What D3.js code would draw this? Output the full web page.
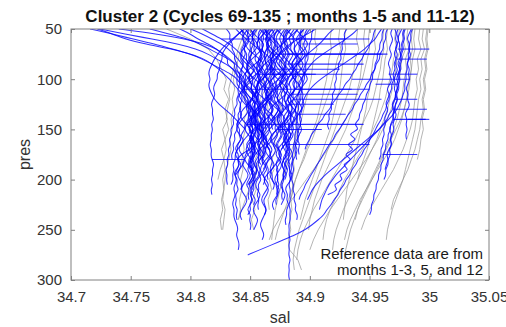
<!DOCTYPE html>
<html>
<head>
<meta charset="utf-8">
<script src="https://cdn.jsdelivr.net/npm/d3@7"></script>
<style>
  html, body { margin: 0; padding: 0; background: #fff; }
  svg { display: block; }
  text { font-family: "Liberation Sans", Arial, Helvetica, sans-serif; }
</style>
</head>
<body>
<svg id="chart" width="506" height="327"></svg>
<script>
// Pressure levels (dbar) shared by every profile of a group
const presCycle = d3.range(50, 301, 5);   // cluster profiles, 5 dbar spacing
const presRef = d3.range(50, 301, 10);    // reference profiles, 10 dbar spacing

const xTicks = [34.7, 34.75, 34.8, 34.85, 34.9, 34.95, 35, 35.05];
const yTicks = [50, 100, 150, 200, 250, 300];

const titleText = "Cluster 2 (Cycles 69-135 ; months 1-5 and 11-12)";
const noteLines = ["Reference data are from", "months 1-3, 5, and 12"];

// Reference profiles: salinity at presRef levels
const refSal = [
  [34.998,34.997,34.998,34.996,34.997,34.995,34.996,34.994,34.995,34.993,34.992,34.990,34.988,34.985,34.982,34.978,34.974,34.970,34.968],
  [34.992,34.991,34.993,34.990,34.991,34.989,34.990,34.988,34.987,34.986,34.984,34.981,34.978,34.974,34.970,34.965,34.960,34.955,34.950,34.946,34.943],
  [34.986,34.985,34.986,34.984,34.985,34.983,34.982,34.981,34.979,34.977,34.974,34.971,34.967,34.962,34.957,34.952,34.947,34.942,34.938,34.934,34.931,34.929],
  [34.995,34.994,34.996,34.993,34.994,34.992,34.993,34.991,34.990,34.989,34.988,34.986,34.984,34.982,34.980,34.978,34.975,34.972,34.969,34.967,34.965,34.964],
  [34.979,34.978,34.980,34.977,34.976,34.975,34.973,34.971,34.968,34.965,34.961,34.957,34.952,34.947,34.941,34.935,34.929,34.923,34.917,34.912,34.907,34.903,34.900],
  [34.972,34.971,34.973,34.970,34.969,34.967,34.965,34.963,34.960,34.957,34.953,34.949,34.944,34.939,34.934,34.929,34.925,34.921,34.917,34.914,34.912,34.911],
  [34.965,34.964,34.965,34.963,34.962,34.961,34.959,34.958,34.956,34.954,34.952,34.950,34.948,34.945,34.942,34.940],
  [34.955,34.954,34.955,34.953,34.952,34.951,34.950,34.948,34.947,34.945,34.943,34.941,34.939,34.937,34.935,34.933,34.931,34.930,34.929,34.928],
  [34.946,34.945,34.946,34.944,34.943,34.942,34.940,34.938,34.936,34.933,34.930,34.926,34.922,34.918,34.914,34.910,34.907,34.904,34.902,34.900,34.899],
  [34.930,34.929,34.930,34.928,34.927,34.926,34.925,34.923,34.921,34.919,34.917,34.914,34.911,34.908,34.905,34.902,34.899,34.896,34.894,34.892],
  [34.918,34.917,34.918,34.916,34.915,34.914,34.912,34.910,34.908,34.906,34.903,34.900,34.897,34.894,34.891,34.888,34.886,34.884],
  [34.905,34.904,34.906,34.903,34.902,34.901,34.899,34.897,34.895,34.893,34.891,34.888,34.885,34.882,34.880,34.877,34.875,34.873,34.871,34.870,34.869,34.868],
  [34.962,34.961,34.962,34.960,34.959,34.957,34.955,34.953,34.950,34.946,34.942,34.938,34.933,34.928,34.923,34.918,34.913,34.908,34.903,34.899,34.895,34.892,34.890,34.889],
  [34.940,34.939,34.941,34.938,34.937,34.935,34.933,34.930,34.927,34.924,34.921,34.918,34.915,34.912,34.909,34.906,34.903,34.900,34.897,34.894,34.891,34.889,34.887,34.886,34.887],
  [34.988,34.987,34.988,34.986,34.985,34.984,34.983,34.981,34.979,34.976,34.972,34.968,34.964,34.960,34.956,34.952,34.948,34.944,34.940,34.937,34.934,34.932,34.930,34.929],
  [34.880,34.878,34.881,34.877,34.879,34.876,34.878,34.874,34.876,34.872,34.874,34.870,34.872,34.868,34.870,34.866,34.868,34.865,34.866],
  [34.866,34.863,34.867,34.862,34.865,34.860,34.863,34.858,34.861,34.857,34.859,34.855,34.858,34.854,34.856,34.853,34.855,34.852,34.854,34.851,34.853],
  [34.780,34.800,34.815,34.822,34.826,34.830,34.828,34.832,34.829,34.831,34.827,34.829,34.826,34.828,34.825,34.823],
  [34.850,34.846,34.842,34.840,34.838,34.836,34.837,34.835,34.836,34.834,34.835,34.833,34.834,34.832,34.830,34.829,34.828,34.827,34.829,34.828,34.827],
  [34.845,34.843,34.840,34.838,34.836,34.834,34.832,34.833,34.831,34.830,34.832,34.829,34.830,34.828,34.829,34.827,34.828,34.826,34.827,34.825,34.826],
  [34.856,34.853,34.851,34.850,34.848,34.849,34.847,34.846,34.848,34.845,34.846,34.844,34.845,34.843,34.844,34.842,34.843,34.841,34.842,34.840],
  [34.895,34.893,34.894,34.891,34.892,34.890,34.891,34.889,34.890,34.888,34.889,34.887,34.888,34.886,34.887,34.885,34.886,34.884,34.885,34.883,34.884,34.882,34.883,34.890,34.893],
  [34.925,34.924,34.926,34.923,34.921,34.919,34.917,34.914,34.911,34.908,34.905,34.902,34.898,34.895,34.891,34.888,34.885,34.882,34.879,34.876,34.873,34.871],
  [34.999,34.998,34.999,34.997,34.998,34.996,34.997,34.995,34.996,34.994,34.995,34.993,34.992,34.990],
  [34.982,34.981,34.983,34.980,34.981,34.979,34.978,34.977,34.975,34.973,34.970,34.967,34.963,34.959,34.955,34.951,34.947,34.943,34.940,34.938],
  [34.975,34.974,34.976,34.973,34.972,34.971,34.969,34.967,34.965,34.962,34.959,34.956,34.952,34.948,34.944,34.940,34.936,34.932,34.928,34.925,34.922,34.920,34.919],
  [34.950,34.949,34.950,34.948,34.946,34.944,34.941,34.938,34.934,34.930,34.925,34.920,34.915,34.909,34.903,34.897,34.891,34.885,34.879,34.874,34.869,34.866],
  [34.872,34.870,34.871,34.868,34.869,34.866,34.867,34.864,34.865,34.862,34.863,34.860,34.861,34.858,34.855,34.852,34.849,34.846,34.843,34.840]
];

// Cluster 2 profiles: salinity at presCycle levels
const cycleSal = [
  [34.716,34.735,34.752,34.770,34.785,34.800,34.812,34.818,34.824,34.828,34.833,34.836,34.840,34.843,34.846,34.849,34.851,34.849,34.852,34.850,34.853,34.851,34.849,34.852,34.850,34.853,34.851,34.849,34.852,34.851],
  [34.724,34.745,34.768,34.790,34.805,34.815,34.822,34.830,34.836,34.838,34.842,34.846,34.844,34.848,34.851,34.849,34.853,34.851,34.855,34.853,34.856,34.854,34.852,34.855,34.853,34.856],
  [34.766,34.782,34.798,34.808,34.816,34.824,34.832,34.838,34.836,34.842,34.846,34.845,34.849,34.853,34.851,34.855,34.853,34.857,34.855,34.859,34.857,34.855,34.858,34.856,34.860,34.858,34.856,34.859],
  [34.722,34.735,34.745,34.762,34.785,34.800,34.810,34.818,34.826,34.834,34.840,34.838,34.843,34.846,34.849,34.847,34.850,34.848,34.852,34.850,34.853,34.851,34.849,34.852,34.850,34.853,34.851,34.849,34.852],
  [34.791,34.800,34.806,34.815,34.822,34.827,34.832,34.830,34.836,34.840,34.838,34.843,34.846,34.845,34.849,34.848,34.852,34.855,34.854,34.858,34.857,34.861,34.864,34.863,34.867,34.866,34.869,34.868,34.866,34.869,34.868,34.871],
  [34.856,34.853,34.851,34.854,34.850,34.852,34.849,34.853,34.855,34.851,34.848,34.852,34.850,34.854,34.851,34.847,34.850,34.853,34.849,34.851,34.848,34.852,34.850,34.846,34.849,34.852,34.848,34.850,34.847,34.851,34.849,34.846,34.850,34.848,34.849],
  [34.864,34.861,34.858,34.862,34.859,34.863,34.860,34.857,34.861,34.864,34.860,34.858,34.861,34.859,34.862,34.858,34.856,34.860,34.863,34.859,34.857,34.861,34.858,34.855,34.859,34.862,34.858,34.856,34.859,34.857,34.860,34.856,34.858,34.855,34.858,34.856,34.857],
  [34.871,34.868,34.866,34.869,34.867,34.871,34.868,34.865,34.869,34.872,34.868,34.866,34.869,34.867,34.864,34.868,34.870,34.866,34.864,34.867,34.865,34.869,34.866,34.863,34.866,34.868,34.865,34.863,34.866,34.864,34.865],
  [34.879,34.876,34.874,34.877,34.875,34.879,34.876,34.873,34.877,34.880,34.876,34.874,34.877,34.874,34.872,34.876,34.878,34.874,34.872,34.875,34.873,34.877,34.874,34.871,34.874,34.876,34.873,34.871,34.874,34.872,34.874,34.871,34.873,34.872],
  [34.887,34.884,34.882,34.885,34.883,34.887,34.884,34.881,34.885,34.888,34.884,34.882,34.885,34.883,34.880,34.884,34.886,34.882,34.880,34.883,34.881,34.885,34.882,34.879,34.882,34.884,34.881,34.879,34.881],
  [34.895,34.892,34.890,34.893,34.891,34.895,34.892,34.889,34.893,34.896,34.892,34.890,34.893,34.890,34.888,34.892,34.894,34.890,34.888,34.891,34.889,34.892,34.889,34.887,34.890,34.888,34.889],
  [34.873,34.871,34.869,34.872,34.868,34.870,34.867,34.869,34.866,34.868,34.864,34.867,34.865,34.863,34.866,34.862,34.864,34.861,34.863,34.860,34.862,34.858,34.861,34.857,34.859,34.856,34.858,34.854,34.857,34.853,34.855,34.852,34.854,34.850,34.852,34.849,34.851,34.848],
  [34.848,34.845,34.843,34.846,34.842,34.844,34.841,34.845,34.843,34.840,34.844,34.842,34.845,34.841,34.839,34.843,34.840,34.844,34.841,34.838,34.842,34.840,34.843,34.839,34.837,34.841,34.839,34.842,34.838,34.836,34.840,34.838,34.841,34.837,34.839,34.837,34.840,34.838,34.839],
  [34.867,34.862,34.865,34.869,34.863,34.866,34.861,34.864,34.868,34.862,34.866,34.860,34.863,34.868,34.862,34.865,34.860,34.864,34.867,34.861,34.865,34.859,34.863,34.866,34.860,34.864,34.859,34.862,34.865,34.860,34.863,34.861],
  [34.881,34.877,34.879,34.875,34.878,34.881,34.877,34.875,34.879,34.876,34.880,34.882,34.878,34.875,34.878,34.876,34.879,34.876,34.873,34.877,34.874,34.878,34.875,34.872,34.875,34.873,34.877,34.874,34.871,34.874,34.872,34.875,34.872,34.874,34.871,34.872],
  [34.862,34.865,34.863,34.866,34.864,34.868,34.866,34.869,34.867,34.871,34.869,34.872,34.870,34.874,34.872,34.875,34.873,34.877,34.875,34.878,34.876,34.880,34.878,34.881,34.879,34.883,34.881,34.884,34.882,34.886,34.884,34.887,34.885,34.888,34.886,34.889,34.887,34.890,34.889],
  [34.854,34.851,34.853,34.849,34.851,34.848,34.850,34.846,34.849,34.845,34.847,34.844,34.846,34.842,34.844,34.841,34.843,34.839,34.841,34.838,34.840,34.836,34.838,34.835,34.837,34.834,34.835],
  [34.861,34.858,34.856,34.859,34.857,34.861,34.858,34.855,34.859,34.862,34.858,34.856,34.859,34.857,34.854,34.858,34.860,34.856,34.854,34.857,34.855,34.859,34.856,34.853,34.856,34.858,34.855,34.853,34.856,34.855],
  [34.890,34.887,34.885,34.888,34.886,34.890,34.887,34.884,34.888,34.891,34.887,34.885,34.888,34.885,34.883,34.887,34.889,34.885,34.883,34.886,34.884,34.887,34.884,34.881,34.884,34.886,34.883,34.881,34.884,34.882,34.885,34.881,34.879,34.882,34.880,34.883,34.880,34.881,34.879,34.880],
  [34.876,34.873,34.871,34.874,34.872,34.876,34.873,34.870,34.874,34.877,34.873,34.871,34.874,34.872,34.869,34.873,34.875,34.871,34.869,34.872,34.870,34.874,34.871,34.869,34.871],
  [34.849,34.847,34.850,34.846,34.844,34.847,34.843,34.845,34.842,34.844,34.840,34.842,34.839,34.841,34.838,34.840,34.836,34.838,34.835,34.837,34.833,34.835,34.832,34.834,34.831,34.833,34.830,34.832,34.829,34.831,34.830,34.831],
  [34.862,34.865,34.863,34.866,34.864,34.861,34.864,34.862,34.866,34.863,34.860,34.864,34.862,34.865,34.862,34.859,34.863,34.861,34.864,34.861,34.858,34.862,34.860,34.863,34.860,34.862,34.859,34.861],
  [34.884,34.881,34.879,34.882,34.880,34.884,34.881,34.878,34.882,34.885,34.881,34.879,34.882,34.880,34.877,34.881,34.883,34.879,34.877,34.880,34.878,34.882,34.879,34.876,34.879,34.881,34.878,34.876,34.879,34.877,34.878],
  [34.850,34.853,34.851,34.855,34.852,34.856,34.853,34.857,34.854,34.858,34.855,34.852,34.856,34.853,34.857,34.854,34.851,34.855,34.852,34.856,34.853,34.850,34.854,34.851,34.855,34.852,34.849,34.853,34.850,34.854,34.851,34.848,34.852,34.849,34.853,34.850,34.847,34.851,34.849,34.851,34.850],
  [34.898,34.895,34.897,34.894,34.896,34.899,34.895,34.897,34.894,34.896,34.899,34.895,34.892,34.895,34.893,34.896,34.893,34.890,34.894,34.891,34.894,34.891,34.889,34.892,34.890,34.891],
  [34.842,34.845,34.843,34.847,34.844,34.848,34.846,34.849,34.847,34.851,34.848,34.852,34.850,34.853,34.851,34.855,34.852,34.856,34.853,34.857,34.855,34.858,34.856],
  [34.868,34.871,34.869,34.873,34.870,34.867,34.871,34.869,34.872,34.869,34.866,34.870,34.868,34.871,34.868,34.865,34.869,34.867,34.870,34.867,34.869],
  [34.893,34.891,34.894,34.890,34.892,34.889,34.891,34.888,34.890,34.887,34.889,34.886,34.888,34.885,34.887,34.884,34.886,34.883,34.885,34.882,34.884,34.881,34.883,34.880,34.882,34.879,34.881,34.878,34.880,34.877,34.879,34.876,34.878,34.876,34.877],
  [34.859,34.856,34.858,34.855,34.857,34.860,34.856,34.858,34.855,34.857,34.860,34.856,34.854,34.857,34.855,34.858,34.855,34.852,34.856,34.853,34.856,34.853,34.851,34.854,34.852,34.855,34.852,34.850,34.853,34.851,34.854,34.851,34.852],
  [34.882,34.879,34.881,34.878,34.880,34.883,34.879,34.881,34.878,34.880,34.883,34.879,34.877,34.880,34.878,34.881,34.879],
  [34.830,34.834,34.832,34.836,34.834,34.838,34.836,34.840,34.838,34.842,34.840,34.844,34.842,34.846,34.844,34.848,34.846,34.850,34.848,34.851,34.849,34.852,34.850,34.853,34.851,34.853,34.852,34.854,34.852],
  [34.977,34.975,34.973,34.976,34.974,34.977,34.975,34.973,34.976,34.974,34.972,34.975,34.973,34.971,34.974,34.972,34.970,34.973,34.971,34.969,34.971,34.969,34.967,34.969,34.966,34.968,34.965,34.966,34.963,34.964,34.962],
  [34.969,34.967,34.970,34.968,34.966,34.969,34.967,34.965,34.968,34.966,34.969,34.967,34.964,34.967,34.965,34.963,34.966,34.964,34.962,34.964,34.961,34.963,34.960,34.962,34.959,34.960,34.958],
  [34.985,34.983,34.981,34.984,34.982,34.985,34.983,34.981,34.984,34.982,34.984,34.982,34.980,34.983,34.981,34.984,34.982,34.979,34.982,34.980,34.982,34.980,34.981],
  [34.974,34.972,34.975,34.973,34.971,34.974,34.972,34.970,34.972,34.969,34.971,34.968,34.969,34.966,34.967,34.964,34.964,34.961,34.960,34.957,34.955,34.953,34.950,34.949,34.945,34.944,34.940,34.939,34.935,34.934,34.930,34.929,34.925,34.924,34.920,34.918,34.914,34.912,34.907,34.902,34.896,34.888,34.878,34.868,34.858,34.848],
  [34.965,34.963,34.964,34.961,34.962,34.958,34.959,34.955,34.955,34.951,34.951,34.947,34.946,34.942,34.941,34.937,34.936,34.932,34.930,34.927,34.925,34.921,34.920,34.916,34.914,34.911,34.909,34.906,34.904,34.901,34.899,34.896,34.895,34.892,34.891],
  [34.962,34.960,34.961,34.958,34.959,34.956,34.957,34.954,34.955,34.952,34.953,34.950,34.950,34.947,34.947,34.944,34.944,34.941,34.942,34.936,34.943,34.930,34.942,34.928,34.940,34.926,34.938,34.925,34.935,34.922,34.930,34.918,34.925,34.915],
  [34.980,34.978,34.980,34.977,34.979,34.976,34.978,34.975,34.977,34.974,34.976,34.974,34.975,34.972,34.974,34.971,34.972,34.969,34.970,34.967,34.968,34.965,34.966,34.963,34.964,34.961,34.962,34.959,34.960,34.957,34.958,34.955,34.956,34.953,34.954,34.951,34.952,34.950],
  [34.955,34.953,34.953,34.950,34.949,34.945,34.944,34.940,34.939,34.935,34.934,34.929,34.928,34.924,34.922,34.918,34.917,34.912,34.911,34.906,34.905,34.901,34.900,34.897,34.896],
  [34.971,34.973,34.971,34.974,34.972,34.970,34.973,34.971,34.974,34.972,34.970,34.972,34.970,34.973,34.971,34.968,34.971,34.969,34.971,34.968,34.966,34.969,34.967,34.969,34.966,34.964,34.966,34.964,34.963],
  [34.903,34.901,34.902,34.899,34.900,34.898,34.899,34.896,34.897,34.895,34.896,34.893,34.894,34.892,34.893,34.890,34.891,34.889,34.890,34.888,34.889,34.887,34.888,34.886,34.887,34.885,34.886,34.884,34.885,34.883,34.884,34.882,34.884,34.883,34.884,34.882,34.884,34.883,34.884,34.882,34.883,34.882,34.884,34.882,34.883,34.882,34.884,34.882,34.883,34.882,34.883],
  [34.862,34.860,34.862,34.859,34.861,34.858,34.860,34.857,34.859,34.856,34.858,34.855,34.857,34.854,34.856,34.853,34.855,34.852,34.854,34.851,34.853,34.850,34.852,34.849,34.850,34.842,34.839,34.841,34.839,34.837,34.839,34.837,34.836,34.838,34.836,34.835,34.837,34.836,34.837,34.839,34.840,34.838,34.840,34.841,34.840],
  [34.845,34.840,34.836,34.832,34.829,34.826,34.827,34.824,34.825,34.822,34.823,34.820,34.819,34.821,34.819,34.817,34.819,34.818,34.820,34.817,34.819,34.817,34.818,34.816,34.818,34.817,34.818,34.820,34.818,34.819,34.817,34.819,34.817,34.818],
  [34.868,34.865,34.867,34.863,34.865,34.861,34.863,34.859,34.861,34.857,34.859,34.855,34.857,34.853,34.855,34.851,34.852,34.848,34.849,34.845,34.846,34.842,34.843,34.839,34.840,34.837,34.838,34.835,34.837,34.835,34.836,34.834],
  [34.850,34.853,34.858,34.862,34.860,34.856,34.851,34.848,34.846,34.849,34.854,34.859,34.863,34.866,34.864,34.859,34.855,34.852,34.850,34.853,34.857,34.861,34.858,34.854,34.849,34.846,34.845,34.848,34.852,34.855,34.853,34.849],
  [34.875,34.870,34.866,34.863,34.865,34.869,34.874,34.878,34.881,34.879,34.874,34.869,34.865,34.862,34.864,34.868,34.873,34.877,34.880,34.878,34.873,34.868,34.866,34.869,34.872,34.870,34.866,34.863,34.861],
  [34.890,34.886,34.881,34.877,34.874,34.876,34.880,34.884,34.887,34.885,34.880,34.876,34.872,34.870,34.873,34.877,34.881,34.883,34.880,34.876,34.872,34.869,34.867,34.870,34.874,34.877,34.875,34.871,34.868,34.866,34.868,34.871,34.869],
  [34.858,34.862,34.867,34.871,34.874,34.872,34.867,34.862,34.858,34.855,34.857,34.861,34.866,34.869,34.867,34.862,34.857,34.853,34.851,34.854,34.858,34.862,34.865,34.862,34.858,34.854,34.851,34.853,34.856,34.858,34.855,34.852,34.850,34.852,34.855,34.853],
  [34.900,34.897,34.893,34.889,34.886,34.888,34.892,34.895,34.893,34.889,34.885,34.882,34.880,34.883,34.887,34.890,34.888,34.884,34.880,34.878,34.881,34.885,34.883,34.879,34.876],
  [34.842,34.846,34.850,34.848,34.844,34.841,34.843,34.847,34.852,34.856,34.853,34.848,34.844,34.840,34.842,34.846,34.850,34.847,34.843,34.840,34.838,34.841,34.845,34.843,34.839,34.837,34.840,34.843,34.841,34.838],
  [34.880,34.884,34.888,34.885,34.880,34.875,34.871,34.868,34.866,34.869,34.873,34.878,34.882,34.880,34.875,34.870,34.866,34.864,34.867,34.871,34.875,34.873,34.869,34.865,34.862,34.864,34.868,34.871,34.868,34.864,34.861,34.863,34.866,34.864,34.861,34.862,34.864,34.862],
  [34.866,34.861,34.857,34.855,34.858,34.863,34.868,34.872,34.870,34.865,34.860,34.856,34.854,34.857,34.862,34.867,34.870,34.868,34.863,34.858,34.855,34.853,34.856,34.860,34.864,34.862,34.858],
  [34.895,34.891,34.888,34.890,34.894,34.897,34.894,34.890,34.886,34.884,34.887,34.891,34.893,34.890,34.886,34.883,34.881,34.884,34.888,34.886,34.882,34.879,34.877,34.880,34.884,34.882,34.878,34.876,34.878,34.881,34.879],
  [34.838,34.842,34.847,34.852,34.857,34.861,34.859,34.854,34.849,34.845,34.843,34.846,34.851,34.855,34.853,34.848,34.844,34.841,34.843,34.847,34.851,34.849,34.845,34.842,34.840,34.843,34.846,34.844,34.841,34.839,34.841,34.844,34.842],
  [34.872,34.876,34.880,34.877,34.872,34.867,34.864,34.866,34.870,34.875,34.879,34.876,34.871,34.866,34.862,34.860,34.863,34.868,34.872,34.870,34.866,34.862,34.860,34.863,34.866],
  [34.905,34.898,34.890,34.883,34.878,34.874,34.871,34.873,34.877,34.881,34.879,34.874,34.869,34.866,34.868,34.872,34.876,34.874,34.870,34.866,34.863],
  [34.855,34.851,34.847,34.845,34.848,34.853,34.858,34.862,34.860,34.855,34.850,34.846,34.844,34.847,34.852,34.856,34.859,34.856,34.851,34.847,34.845,34.848,34.852,34.855,34.852,34.848,34.845,34.843,34.846,34.849,34.847,34.844,34.842,34.845,34.848,34.846,34.843,34.841,34.843],
  [34.884,34.880,34.877,34.879,34.883,34.887,34.890,34.888,34.883,34.879,34.876,34.874,34.877,34.881,34.885,34.883,34.879,34.875,34.872,34.874,34.878,34.882,34.880,34.876,34.873,34.871,34.874,34.877,34.875,34.872,34.870,34.872,34.875,34.873,34.870,34.868,34.870],
  [34.810,34.818,34.826,34.833,34.838,34.842,34.846,34.850,34.854,34.851,34.847,34.845,34.848,34.852,34.856,34.859,34.857,34.853,34.849,34.847,34.850,34.854,34.852,34.848,34.846,34.848,34.851],
  [34.920,34.915,34.912,34.908,34.903,34.898,34.893,34.889,34.886,34.884,34.887,34.890,34.888,34.884,34.881,34.879,34.882,34.885,34.883,34.879,34.876,34.878,34.881,34.879,34.876,34.874,34.876],
  [34.862,34.866,34.870,34.874,34.877,34.875,34.870,34.866,34.863,34.861,34.864,34.868,34.872,34.870,34.866,34.862,34.859,34.857,34.860,34.864,34.867,34.865,34.861,34.858,34.856,34.858,34.861,34.864,34.862,34.859,34.856,34.854,34.856,34.859,34.857,34.854,34.852,34.854,34.857,34.855,34.853],
  [34.846,34.849,34.853,34.857,34.855,34.851,34.848,34.851,34.856,34.861,34.865,34.863,34.858,34.854,34.851,34.849,34.852,34.856,34.860,34.858,34.854,34.851,34.849,34.852,34.855,34.853,34.850,34.848,34.850,34.853,34.851,34.848],
  [34.888,34.892,34.896,34.899,34.896,34.891,34.887,34.884,34.886,34.890,34.894,34.892,34.888,34.884,34.881,34.883,34.887,34.890,34.888,34.884,34.881,34.879,34.881,34.884,34.882,34.879,34.877,34.879,34.882,34.880,34.877,34.875,34.877,34.880,34.878,34.876],
  [34.869,34.865,34.862,34.864,34.868,34.873,34.877,34.880,34.878,34.873,34.868,34.864,34.861,34.863,34.867,34.871,34.874,34.872,34.868,34.864,34.861,34.859,34.862,34.866,34.869,34.867,34.863,34.860,34.858,34.860,34.863,34.866,34.864,34.861,34.859,34.861,34.864,34.862,34.860,34.858,34.860,34.862,34.860],
  [34.960,34.957,34.955,34.950,34.946,34.940,34.934,34.928,34.921,34.915,34.909,34.904,34.900,34.897,34.895,34.893,34.894,34.892,34.891,34.893,34.890,34.889,34.891,34.888,34.887,34.889,34.886,34.885,34.887,34.885,34.884],
  [34.940,34.936,34.930,34.924,34.917,34.911,34.905,34.901,34.898,34.895,34.893,34.895,34.892,34.890,34.892,34.889,34.887,34.889,34.886,34.885,34.887,34.884,34.883],
  [34.986,34.984,34.985,34.983,34.984,34.982,34.983,34.981,34.982,34.980,34.981,34.979,34.980,34.978,34.977,34.975,34.973,34.970,34.966,34.962,34.958,34.953,34.948,34.943,34.938,34.933,34.928,34.923,34.918,34.913,34.909,34.905,34.902,34.900,34.898],
  [34.931,34.928,34.930,34.926,34.928,34.925,34.927,34.923,34.925,34.921,34.923,34.920,34.922,34.918,34.920,34.917,34.919,34.915,34.917,34.914,34.916],
  [34.979,34.977,34.979,34.976,34.978,34.975,34.977,34.974,34.976,34.973,34.975,34.972,34.974,34.971,34.972,34.969,34.970,34.966,34.965,34.961,34.958,34.954,34.950,34.946,34.942,34.938,34.934,34.930,34.926,34.922,34.919,34.916,34.914,34.912,34.910,34.909,34.908],
  [34.800,34.810,34.818,34.826,34.832,34.836,34.840,34.843,34.846,34.850,34.853,34.851,34.855,34.858,34.856,34.860,34.858,34.862,34.860,34.858,34.861,34.859],
  [34.740,34.772,34.796,34.812,34.822,34.828,34.833,34.838,34.842,34.846,34.849,34.852,34.850,34.854,34.857,34.855,34.858,34.856,34.860,34.858,34.862,34.860],
  [34.845,34.840,34.835,34.830,34.826,34.823,34.820,34.818,34.816,34.815,34.817,34.815,34.816,34.818,34.820,34.824,34.829,34.834,34.838,34.842,34.846]
];

// Single-level salinity excursions: [profile index in cycleSal, pres, sal]
const cycleSpikes = [
  [14, 75, 34.965], [9, 85, 34.945], [18, 110, 34.935], [22, 125, 34.92],
  [6, 95, 34.905], [8, 150, 34.91], [10, 65, 34.94], [15, 165, 34.95],
  [31, 70, 35.0], [31, 130, 34.998], [32, 95, 34.99], [33, 140, 35.0],
  [33, 100, 34.935], [37, 175, 34.99], [42, 180, 34.845], [7, 95, 34.90],
  [29, 60, 34.93], [24, 135, 34.93], [37, 105, 34.955], [39, 120, 34.99],
  [45, 75, 34.96], [47, 95, 34.935], [49, 110, 34.95], [52, 120, 34.96],
  [56, 145, 34.945], [58, 60, 34.95], [60, 90, 34.925], [62, 115, 34.94],
  [39, 80, 34.998], [37, 140, 34.997]
];

const plot = { left: 71, right: 489, top: 29, bottom: 280 };

const svg = d3.select("#chart");

const x = d3.scaleLinear().domain([34.7, 35.05]).range([plot.left, plot.right]);
const y = d3.scaleLinear().domain([50, 300]).range([plot.top, plot.bottom]);

svg.append("defs").append("clipPath").attr("id", "plotClip")
  .append("rect")
  .attr("x", plot.left).attr("y", plot.top)
  .attr("width", plot.right - plot.left).attr("height", plot.bottom - plot.top);

function profilePath(levels, curve) {
  return d3.line()
    .defined(d => d != null)
    .curve(curve)
    .x(d => x(d))
    .y((d, i) => y(levels[i]));
}

const lines = svg.append("g").attr("clip-path", "url(#plotClip)");

// reference profiles in grey, underneath
lines.append("g").selectAll("path")
  .data(refSal).join("path")
  .attr("d", profilePath(presRef, d3.curveLinear))
  .attr("fill", "none")
  .attr("stroke", "rgb(150,150,150)")
  .attr("stroke-opacity", 0.8)
  .attr("stroke-width", 0.9)
  .attr("stroke-linejoin", "round");

const blue = lines.append("g")
  .attr("fill", "none")
  .attr("stroke", "rgb(0,0,255)")
  .attr("stroke-opacity", 0.8)
  .attr("stroke-width", 1.05)
  .attr("stroke-linejoin", "round");

// cluster profiles in blue
blue.selectAll("path.profile")
  .data(cycleSal).join("path")
  .attr("class", "profile")
  .attr("d", profilePath(presCycle, d3.curveBasis));

// horizontal excursions at single levels
blue.selectAll("line.spike")
  .data(cycleSpikes).join("line")
  .attr("class", "spike")
  .attr("x1", d => x(cycleSal[d[0]][presCycle.indexOf(d[1])]))
  .attr("x2", d => x(d[2]))
  .attr("y1", d => y(d[1]))
  .attr("y2", d => y(d[1]));

// axes: box with inward ticks on all four sides
const axisColor = "#808080";
const textColor = "#333333";
const tickLen = 4;

const xAxis = d3.axisBottom(x).tickValues(xTicks).tickSize(-tickLen).tickPadding(11)
  .tickFormat(d => d3.format("")(+d.toFixed(2)));
const gx = svg.append("g").attr("transform", `translate(0,${plot.bottom})`).call(xAxis);

const yAxis = d3.axisLeft(y).tickValues(yTicks).tickSize(-tickLen).tickPadding(9);
const gy = svg.append("g").attr("transform", `translate(${plot.left},0)`).call(yAxis);

const gxTop = svg.append("g").attr("transform", `translate(0,${plot.top})`)
  .call(d3.axisTop(x).tickValues(xTicks).tickSize(-tickLen).tickFormat(""));
const gyRight = svg.append("g").attr("transform", `translate(${plot.right},0)`)
  .call(d3.axisRight(y).tickValues(yTicks).tickSize(-tickLen).tickFormat(""));

[gx, gy, gxTop, gyRight].forEach(g => {
  g.select(".domain").remove();
  g.selectAll(".tick line").attr("stroke", axisColor).attr("stroke-width", 1);
  g.selectAll(".tick text")
    .attr("fill", textColor)
    .style("font-size", "15px")
    .style("font-family", "'Liberation Sans', Arial, sans-serif");
});

svg.append("rect")
  .attr("x", plot.left).attr("y", plot.top)
  .attr("width", plot.right - plot.left).attr("height", plot.bottom - plot.top)
  .attr("fill", "none").attr("stroke", axisColor).attr("stroke-width", 1);

// title and axis labels
svg.append("text")
  .attr("x", (plot.left + plot.right) / 2).attr("y", 22)
  .attr("text-anchor", "middle")
  .attr("fill", "#111")
  .style("font-size", "17px").style("font-weight", "bold")
  .text(titleText);

svg.append("text")
  .attr("x", (plot.left + plot.right) / 2).attr("y", 323)
  .attr("text-anchor", "middle").attr("fill", textColor)
  .style("font-size", "16px")
  .text("sal");

svg.append("text")
  .attr("transform", `translate(30,${(plot.top + plot.bottom) / 2}) rotate(-90)`)
  .attr("text-anchor", "middle").attr("fill", textColor)
  .style("font-size", "16px")
  .text("pres");

// note in the lower right corner
svg.append("g").selectAll("text")
  .data(noteLines).join("text")
  .attr("x", 483)
  .attr("y", (d, i) => 259 + i * 16)
  .attr("text-anchor", "end")
  .attr("fill", "#1a1a1a")
  .style("font-size", "15px")
  .text(d => d);
</script>
</body>
</html>
